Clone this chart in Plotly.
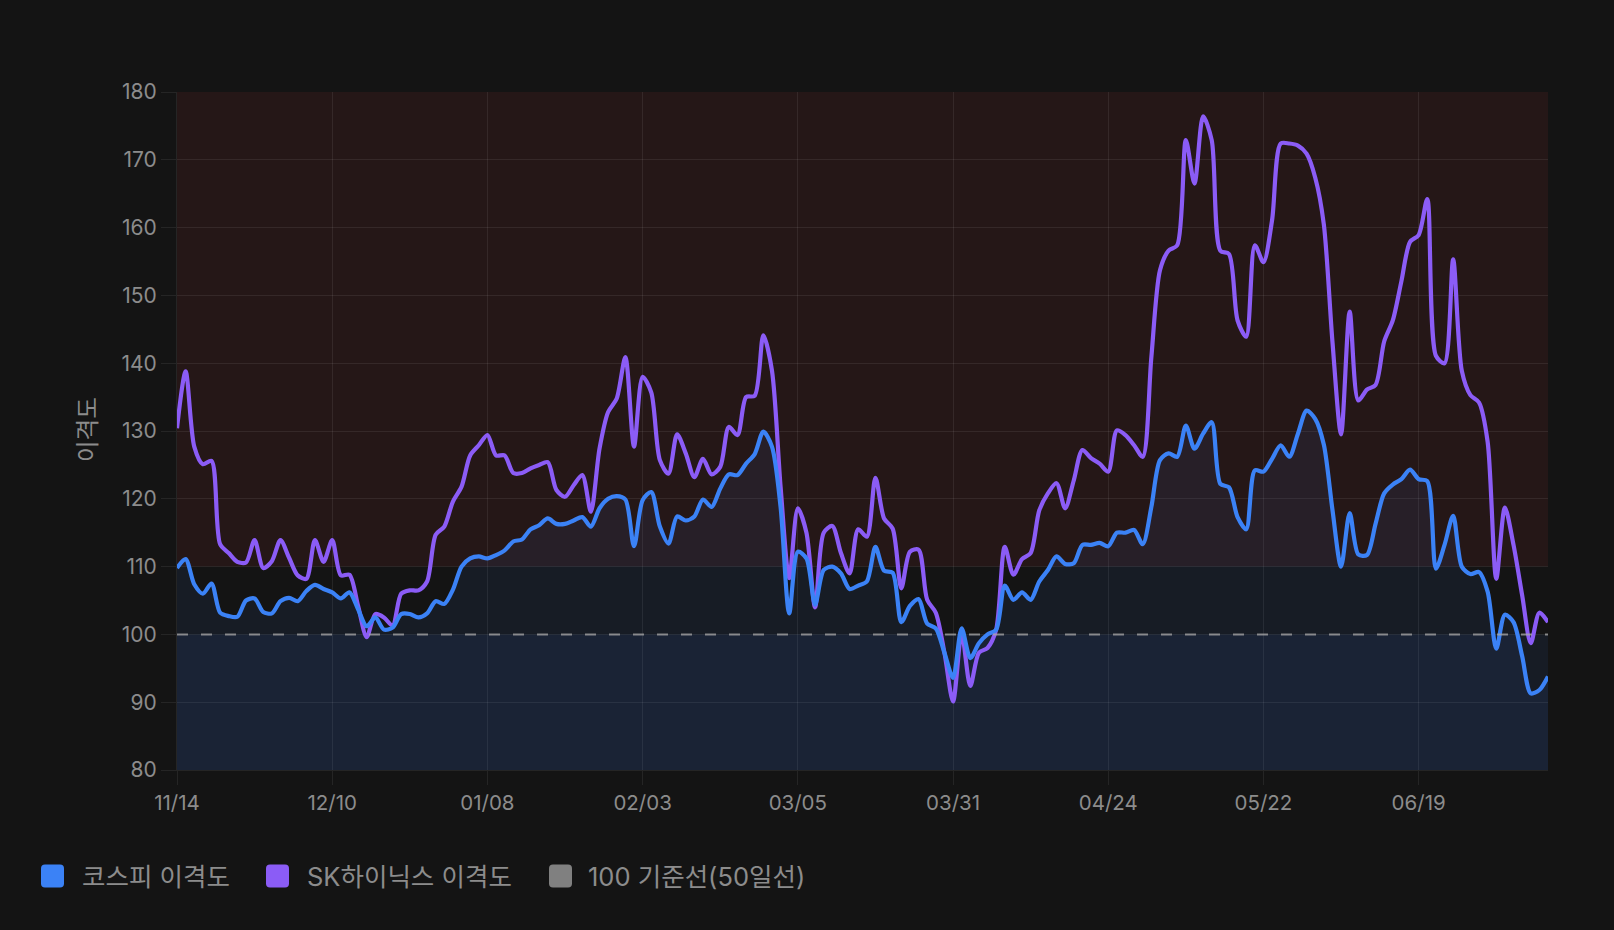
import plotly.graph_objects as go

# ---------------- data ----------------
TICK_INDEX = [0, 18, 36, 54, 72, 90, 108, 126, 144]
TICK_LABELS = ["11/14", "12/10", "01/08", "02/03", "03/05", "03/31", "04/24", "05/22", "06/19"]

KOSPI = [
    109.8, 111.1, 107.4, 106.0, 107.5, 103.2, 102.7, 102.6, 105.0, 105.3,
    103.3, 103.1, 104.9, 105.4, 104.9, 106.4, 107.3, 106.7, 106.2, 105.3,
    106.2, 103.7, 101.2, 102.5, 100.7, 101.0, 103.0, 103.0, 102.5, 103.1,
    104.9, 104.5, 106.6, 110.0, 111.2, 111.5, 111.2, 111.7, 112.4, 113.7,
    114.0, 115.5, 116.1, 117.1, 116.3, 116.3, 116.8, 117.3, 115.9, 118.6,
    120.0, 120.4, 119.9, 113.0, 119.8, 121.0, 115.9, 113.4, 117.4, 116.8,
    117.4, 119.9, 118.8, 121.5, 123.6, 123.5, 125.2, 126.6, 129.9, 127.7,
    118.8, 103.1, 112.2, 111.2, 104.4, 109.5, 110.0, 109.0, 106.7, 107.2,
    107.8, 112.9, 109.4, 109.1, 101.8, 104.2, 105.2, 101.6, 100.9, 97.3,
    93.6, 100.9, 96.5, 98.7, 100.0, 100.7, 107.2, 105.1, 106.2, 105.1,
    107.8, 109.5, 111.5, 110.4, 110.5, 113.2, 113.2, 113.5, 113.0, 115.0,
    115.0, 115.4, 113.3, 118.8, 125.7, 126.7, 126.2, 130.8, 127.4, 129.6,
    131.3, 122.2, 121.7, 117.3, 115.5, 124.2, 124.0, 125.9, 127.9, 126.2,
    129.6, 133.0, 131.8, 128.0, 118.4, 110.0, 117.9, 111.8, 111.7, 116.3,
    120.8, 122.1, 122.9, 124.3, 122.9, 122.6, 109.7, 113.2, 117.5, 110.0,
    108.9, 109.2, 106.3, 97.9, 102.9, 101.8, 96.8, 91.3, 91.8, 93.8,
]

SKHYNIX = [
    130.4, 138.8, 127.7, 125.1, 125.6, 113.3, 112.0, 110.7, 110.6, 113.9,
    109.8, 110.8, 113.9, 111.3, 108.7, 108.2, 113.9, 110.7, 113.9, 108.7,
    108.8, 104.2, 99.6, 103.0, 102.5, 101.3, 106.0, 106.5, 106.5, 107.8,
    114.7, 115.9, 119.6, 121.8, 126.4, 127.9, 129.4, 126.4, 126.4, 123.8,
    123.8, 124.5, 125.0, 125.4, 121.3, 120.3, 122.0, 123.5, 118.1, 127.4,
    132.8, 134.8, 140.9, 127.7, 138.0, 135.7, 125.7, 123.7, 129.5, 126.7,
    123.2, 125.9, 123.6, 124.7, 130.6, 129.4, 135.0, 135.2, 144.1, 138.9,
    121.8, 108.3, 118.6, 115.0, 104.0, 115.0, 116.0, 112.0, 109.0, 115.5,
    114.4, 123.1, 117.1, 115.6, 106.8, 112.2, 112.5, 105.1, 103.2, 97.3,
    90.1, 100.2, 92.4, 97.3, 98.0, 100.7, 112.9, 108.8, 111.1, 112.0,
    118.3, 120.8, 122.3, 118.6, 122.7, 127.2, 126.0, 125.2, 124.0, 130.1,
    129.4, 127.9, 126.2, 140.9, 153.7, 156.6, 157.4, 172.9, 166.5, 176.4,
    172.9, 156.6, 156.1, 146.3, 143.9, 157.4, 154.9, 161.1, 172.4, 172.4,
    172.1, 170.9, 167.4, 160.5, 143.2, 129.5, 147.6, 134.5, 136.1, 136.8,
    143.2, 146.3, 152.1, 157.9, 158.9, 164.2, 141.1, 140.0, 155.3, 138.9,
    135.3, 134.2, 128.4, 108.2, 118.7, 113.2, 105.8, 98.7, 103.2, 101.8,
]

BASELINE = 100
OVERHEAT = 110
Y_MIN, Y_MAX = 80, 180

SERIES_NAMES = ["코스피 이격도", "SK하이닉스 이격도", "100 기준선(50일선)"]
SERIES_COLORS = ["#3b82f6", "#8b5cf6", "#808080"]
Y_TITLE = "이격도"

# ---------------- figure ----------------
W, H = 1614, 930
ML, MR, MT, MB = 177, 66, 92, 160
PW, PH = W - ML - MR, H - MT - MB
FONT = "Inter, 'Noto Sans CJK KR', 'Noto Sans', sans-serif"
TXT = "#8c8c8c"
GRID = "rgba(255,255,255,0.075)"
LW = 4.2

x = list(range(len(KOSPI)))

fig = go.Figure()

# KOSPI area fill (under the lines)
fig.add_trace(go.Scatter(
    x=x, y=KOSPI, mode="lines", line=dict(width=0, shape="spline", smoothing=0.8),
    fill="tozeroy", fillcolor="rgba(59,130,246,0.08)", hoverinfo="skip", showlegend=False))

fig.add_trace(go.Scatter(
    x=x, y=SKHYNIX, mode="lines", name=SERIES_NAMES[1],
    line=dict(color=SERIES_COLORS[1], width=LW, shape="spline", smoothing=0.8),
    showlegend=False))

fig.add_trace(go.Scatter(
    x=x, y=KOSPI, mode="lines", name=SERIES_NAMES[0],
    line=dict(color=SERIES_COLORS[0], width=LW, shape="spline", smoothing=0.8),
    showlegend=False))

# background bands
fig.add_hrect(y0=OVERHEAT, y1=Y_MAX, fillcolor="rgba(239,68,68,0.08)", line_width=0, layer="below")
fig.add_hrect(y0=Y_MIN, y1=BASELINE, fillcolor="rgba(59,130,246,0.08)", line_width=0, layer="below")

# baseline
fig.add_hline(y=BASELINE, line=dict(color="rgba(170,170,170,0.75)", width=2, dash="11px,13px"))

fig.update_layout(
    width=W, height=H,
    margin=dict(l=ML, r=MR, t=MT, b=MB),
    paper_bgcolor="#141414", plot_bgcolor="#141414",
    font=dict(family=FONT, color=TXT, size=21),
    showlegend=False,
)
fig.update_xaxes(
    range=[0, len(KOSPI) - 1], tickvals=TICK_INDEX, ticktext=TICK_LABELS,
    showgrid=True, gridcolor=GRID, gridwidth=1, zeroline=False,
    ticks="outside", ticklen=14, tickcolor=GRID, tickfont=dict(size=20.5, color=TXT),
    showline=True, linecolor=GRID,
)
fig.update_yaxes(
    range=[Y_MIN, Y_MAX], dtick=10, tick0=0,
    showgrid=True, gridcolor=GRID, gridwidth=1, zeroline=False,
    ticks="outside", ticklen=15, tickcolor=GRID, tickfont=dict(size=21, color=TXT),
    showline=True, linecolor=GRID,
)

def px_x(p):
    return (p - ML) / PW

def px_y(p):
    return (H - MB - p) / PH

# y-axis title
fig.add_annotation(text=Y_TITLE, x=px_x(87), y=px_y(430), xref="paper", yref="paper",
                   textangle=-90, showarrow=False, font=dict(size=23.5, color=TXT, family=FONT),
                   xanchor="center", yanchor="middle")

# manual legend (rounded swatches)
legend_items = [(41, 80), (266, 305), (549, 586)]
cy = 876
for (sx, tx), name, col in zip(legend_items, SERIES_NAMES, SERIES_COLORS):
    x0, x1 = px_x(sx), px_x(sx + 23)
    y0, y1 = px_y(cy + 11.5), px_y(cy - 11.5)
    rx, ry = 4 / PW, 4 / PH
    path = (f"M {x0+rx},{y0} L {x1-rx},{y0} Q {x1},{y0} {x1},{y0+ry} "
            f"L {x1},{y1-ry} Q {x1},{y1} {x1-rx},{y1} L {x0+rx},{y1} "
            f"Q {x0},{y1} {x0},{y1-ry} L {x0},{y0+ry} Q {x0},{y0} {x0+rx},{y0} Z")
    fig.add_shape(type="path", path=path, xref="paper", yref="paper",
                  fillcolor=col, line_width=0)
    fig.add_annotation(text=name, x=px_x(tx), y=px_y(cy), xref="paper", yref="paper",
                       showarrow=False, xanchor="left", yanchor="middle",
                       font=dict(size=25.5, color=TXT, family=FONT))

fig.write_html("out.html")
